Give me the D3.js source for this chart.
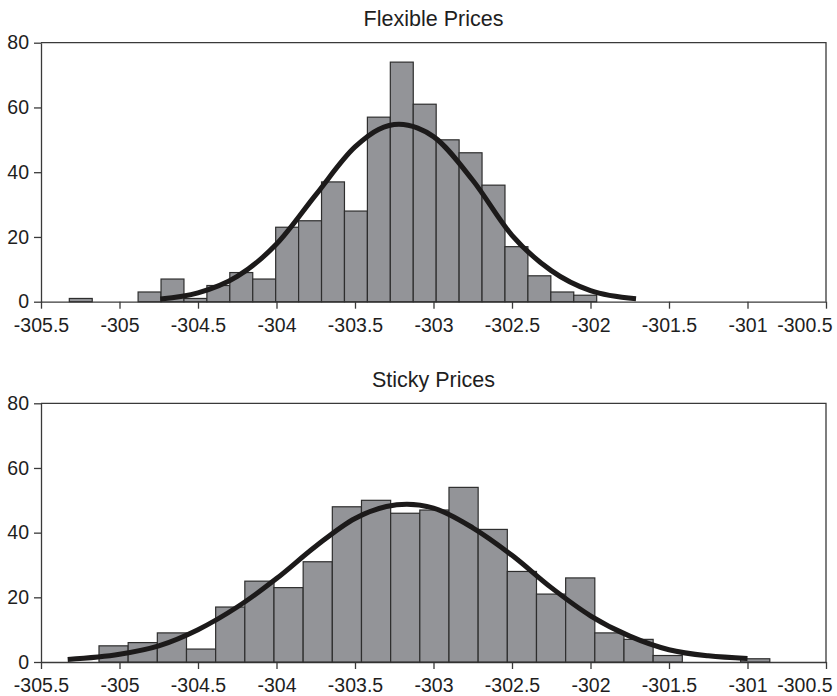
<!DOCTYPE html>
<html>
<head>
<meta charset="utf-8">
<script src="https://cdn.jsdelivr.net/npm/d3@7/dist/d3.min.js"></script>
<style>
  html, body { margin: 0; padding: 0; background: #fff; }
  svg { display: block; font-family: "Liberation Sans", Arial, Helvetica, sans-serif; }
</style>
</head>
<body>
<svg id="chart" width="837" height="696"></svg>
<script>
// ---------- DATA ----------
const xTicks = [-305.5, -305, -304.5, -304, -303.5, -303, -302.5, -302, -301.5, -301, -300.5];
const xTickLabels = ["-305.5", "-305", "-304.5", "-304", "-303.5", "-303", "-302.5", "-302", "-301.5", "-301", "-300.5"];
const yTicks = [0, 20, 40, 60, 80];

const flexTitle = "Flexible Prices";
const flexBinStart = -305.3197;
const flexBinWidth = 0.14605;
const flexCounts = [1, 0, 0, 3, 7, 1, 5, 9, 7, 23, 25, 37, 28, 57, 74, 61, 50, 46, 36, 17, 8, 3, 2];
const flexCurveX = [-304.74, -304.5, -304.25, -304.0, -303.75, -303.5, -303.35, -303.22, -303.1, -303.0, -302.75, -302.5, -302.25, -302.0, -301.71];
const flexCurveY = [0.8, 2.7, 7.8, 17.8, 33.0, 47.8, 53.2, 54.8, 53.6, 51.0, 37.5, 20.5, 9.6, 3.4, 0.9];

const stickyTitle = "Sticky Prices";
const stickyBinStart = -305.1306;
const stickyBinWidth = 0.18577;
const stickyCounts = [5, 6, 9, 4, 17, 25, 23, 31, 48, 50, 46, 47, 54, 41, 28, 21, 26, 9, 7, 2, 0, 0, 1];
const stickyCurveX = [-305.33, -305.0, -304.75, -304.5, -304.25, -304.0, -303.75, -303.5, -303.3, -303.17, -303.0, -302.75, -302.5, -302.25, -302.0, -301.75, -301.5, -301.25, -301.0];
const stickyCurveY = [0.8, 2.4, 5.0, 10.0, 17.0, 25.8, 35.8, 44.4, 48.1, 48.8, 47.6, 41.5, 33.0, 23.0, 14.3, 8.0, 3.8, 1.9, 1.1];

// ---------- LAYOUT ----------
const svg = d3.select("#chart");
const plotLeft = 41, plotRight = 826;
const panels = [
  { title: flexTitle, titleY: 26, top: 42.7, bottom: 301.7,
    binStart: flexBinStart, binWidth: flexBinWidth, counts: flexCounts,
    cx: flexCurveX, cy: flexCurveY },
  { title: stickyTitle, titleY: 386.5, top: 403.3, bottom: 662,
    binStart: stickyBinStart, binWidth: stickyBinWidth, counts: stickyCounts,
    cx: stickyCurveX, cy: stickyCurveY }
];

const frameColor = "#3a3a3a";
const barFill = "#939498";
const barStroke = "#2e2e2e";
const curveColor = "#1c1a1a";
const textColor = "#1e1e1e";

panels.forEach(p => {
  const x = d3.scaleLinear().domain([xTicks[0], xTicks[xTicks.length - 1]]).range([plotLeft, plotRight]);
  const y = d3.scaleLinear().domain([yTicks[0], yTicks[yTicks.length - 1]]).range([p.bottom, p.top]);
  const g = svg.append("g");

  // title
  g.append("text")
    .attr("x", (plotLeft + plotRight) / 2)
    .attr("y", p.titleY)
    .attr("text-anchor", "middle")
    .attr("font-size", 21.5)
    .attr("fill", textColor)
    .text(p.title);

  // frame (top & right)
  g.append("path")
    .attr("d", `M${x.range()[0]},${y(yTicks[yTicks.length - 1])}H${x.range()[1]}V${y(0)}`)
    .attr("fill", "none")
    .attr("stroke", frameColor)
    .attr("stroke-width", 1.3);

  // y axis
  const yAxis = d3.axisLeft(y).tickValues(yTicks).tickSize(7).tickSizeOuter(0).tickPadding(5)
    .tickFormat(d => String(d));
  const ya = g.append("g").attr("transform", `translate(${plotLeft},0)`).call(yAxis);
  ya.selectAll("text").attr("font-size", 19.5).attr("fill", textColor).attr("font-family", "Liberation Sans, Arial, sans-serif");
  ya.selectAll("line, path").attr("stroke", frameColor).attr("stroke-width", 1.3);

  // x axis
  const xAxis = d3.axisBottom(x).tickValues(xTicks).tickSize(7).tickSizeOuter(0).tickPadding(9)
    .tickFormat((d, i) => xTickLabels[i]);
  const xa = g.append("g").attr("transform", `translate(0,${p.bottom})`).call(xAxis);
  xa.selectAll("text").attr("font-size", 19.5).attr("fill", textColor).attr("font-family", "Liberation Sans, Arial, sans-serif");
  xa.selectAll("line, path").attr("stroke", frameColor).attr("stroke-width", 1.3);
  // last label squeezed inside the canvas like the original
  xa.selectAll(".tick").filter(d => d === xTicks[xTicks.length - 1])
    .select("text").attr("text-anchor", "end").attr("x", 6);

  // bars
  const bars = p.counts.map((c, i) => ({
    x0: p.binStart + i * p.binWidth,
    x1: p.binStart + (i + 1) * p.binWidth,
    c
  })).filter(d => d.c > 0);
  g.append("g").selectAll("rect").data(bars).join("rect")
    .attr("x", d => x(d.x0))
    .attr("width", d => x(d.x1) - x(d.x0))
    .attr("y", d => y(d.c))
    .attr("height", d => y(0) - y(d.c))
    .attr("fill", barFill)
    .attr("stroke", barStroke)
    .attr("stroke-width", 1.2);

  // fitted curve
  const pts = p.cx.map((v, i) => [v, p.cy[i]]);
  const line = d3.line().x(d => x(d[0])).y(d => y(d[1])).curve(d3.curveMonotoneX);
  g.append("path")
    .attr("d", line(pts))
    .attr("fill", "none")
    .attr("stroke", curveColor)
    .attr("stroke-width", 5)
    .attr("stroke-linecap", "butt")
    .attr("stroke-linejoin", "round");
});
</script>
</body>
</html>
